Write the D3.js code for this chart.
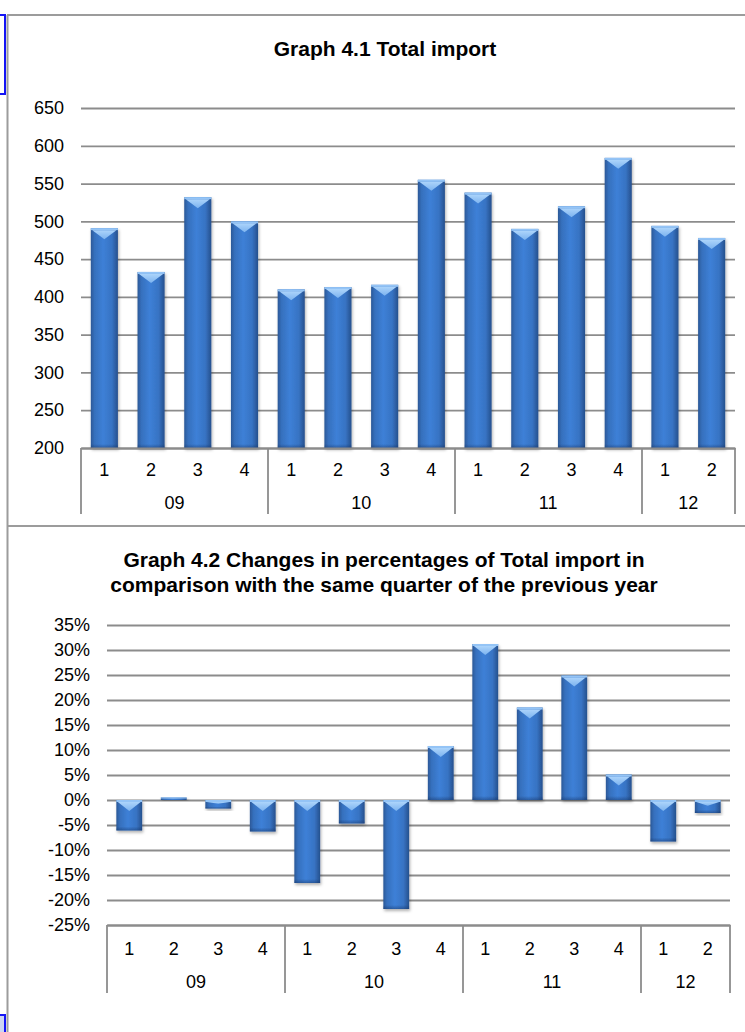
<!DOCTYPE html>
<html>
<head>
<meta charset="utf-8">
<script src="https://cdn.jsdelivr.net/npm/d3@7"></script>
<style>
  html, body { margin: 0; padding: 0; background: #fff; }
  svg { display: block; font-family: "Liberation Sans", Arial, sans-serif; }
</style>
</head>
<body>
<svg id="page" width="745" height="1032"></svg>
<script>
// Quarterly categories, grouped by year
const years = ["09", "10", "11", "12"];
const quartersPerYear = [4, 4, 4, 2];
const quarterLabels = ["1", "2", "3", "4", "1", "2", "3", "4", "1", "2", "3", "4", "1", "2"];

// Total import per quarter
const totalImport = [491, 433, 532, 500, 410, 413, 416, 555, 538, 490, 520, 584, 494, 478];
const importTicks = [200, 250, 300, 350, 400, 450, 500, 550, 600, 650];

// Change against the same quarter of the previous year, in percent
const changePct = [-6.1, 0.5, -1.7, -6.3, -16.6, -4.7, -21.8, 10.8, 31.2, 18.5, 24.9, 5.1, -8.3, -2.6];
const changeTicks = [-25, -20, -15, -10, -5, 0, 5, 10, 15, 20, 25, 30, 35];

const svg = d3.select("#page");
const FONT = 18;
const GRID = "#8c8c8c";
const FRAME = "#9c9c9c";

// ---- defs: bar shading and shadow ----
const defs = svg.append("defs");
const body = defs.append("linearGradient").attr("id", "barBody")
  .attr("x1", "0").attr("x2", "1").attr("y1", "0").attr("y2", "0");
[["0%", "#2b5897"], ["14%", "#3670bd"], ["45%", "#3d80d7"], ["78%", "#3773c3"], ["100%", "#26508d"]]
  .forEach(([o, c]) => body.append("stop").attr("offset", o).attr("stop-color", c));
const cap = defs.append("linearGradient").attr("id", "barCap")
  .attr("x1", "0").attr("x2", "0").attr("y1", "0").attr("y2", "1");
[["0%", "#acd4fb"], ["100%", "#7cb3ef"]]
  .forEach(([o, c]) => cap.append("stop").attr("offset", o).attr("stop-color", c));
const foot = defs.append("linearGradient").attr("id", "barFoot")
  .attr("x1", "0").attr("x2", "0").attr("y1", "0").attr("y2", "1");
[["0%", "rgba(20,50,100,0)"], ["100%", "rgba(20,50,100,0.45)"]]
  .forEach(([o, c]) => foot.append("stop").attr("offset", o).attr("stop-color", c));
const shadow = defs.append("filter").attr("id", "barShadow")
  .attr("x", "-30%").attr("y", "-10%").attr("width", "160%").attr("height", "130%");
shadow.append("feDropShadow").attr("dx", 1).attr("dy", 2).attr("stdDeviation", 1.6)
  .attr("flood-color", "#000").attr("flood-opacity", 0.3);

// ---- page frame ----
const frame = svg.append("g").attr("fill", "none").attr("stroke", FRAME).attr("stroke-width", 2);
frame.append("line").attr("x1", 7).attr("x2", 745).attr("y1", 15).attr("y2", 15);
frame.append("line").attr("x1", 7.5).attr("x2", 7.5).attr("y1", 15).attr("y2", 1032);
frame.append("line").attr("x1", 7).attr("x2", 745).attr("y1", 526).attr("y2", 526);
svg.append("rect").attr("x", -3).attr("y", 15).attr("width", 8).attr("height", 79)
  .attr("fill", "#fff").attr("stroke", "#1515f5").attr("stroke-width", 2);
svg.append("rect").attr("x", -3).attr("y", 1015).attr("width", 8).attr("height", 30)
  .attr("fill", "#cdd5f2").attr("stroke", "#1515f5").attr("stroke-width", 2);

// ---- shared chart drawing ----
function drawChart(cfg) {
  const g = svg.append("g");
  const x = d3.scaleBand()
    .domain(d3.range(quarterLabels.length))
    .range([cfg.left, cfg.right])
    .paddingInner(cfg.pad).paddingOuter(cfg.pad / 2);
  const y = d3.scaleLinear().domain(cfg.domain).range([cfg.bottom, cfg.top]);

  // title
  cfg.title.forEach((line, i) => {
    g.append("text").attr("x", cfg.titleX).attr("y", cfg.titleY + i * 25)
      .attr("text-anchor", "middle").attr("font-size", 21).attr("font-weight", "bold")
      .attr("fill", "#000").text(line);
  });

  // value axis with gridlines
  const ya = g.append("g").attr("transform", `translate(${cfg.left},0)`)
    .call(d3.axisLeft(y).tickValues(cfg.ticks).tickFormat(cfg.fmt)
      .tickSize(-(cfg.right - cfg.left)).tickPadding(cfg.labelGap));
  ya.select(".domain").remove();
  ya.selectAll(".tick line").attr("stroke", GRID).attr("stroke-width", 1.8);
  ya.selectAll(".tick text").attr("font-size", FONT).attr("fill", "#000")
    .attr("font-family", "Liberation Sans, Arial, sans-serif");

  // bars
  const bars = g.append("g");
  const y0 = y(cfg.base);
  cfg.values.forEach((v, i) => {
    const bx = x(i), bw = x.bandwidth();
    const top = Math.min(y(v), y0), h = Math.abs(y(v) - y0);
    const bar = bars.append("g").attr("filter", "url(#barShadow)");
    bar.append("rect").attr("x", bx).attr("y", top).attr("width", bw).attr("height", h)
      .attr("fill", "url(#barBody)");
    const fh = Math.min(4, h * 0.25);
    bar.append("rect").attr("x", bx).attr("y", top + h - fh).attr("width", bw).attr("height", fh)
      .attr("fill", "url(#barFoot)");
    const th = Math.min(11, h * 0.45);
    const sh = Math.min(2, h * 0.4);
    bar.append("rect").attr("x", bx).attr("y", top).attr("width", bw).attr("height", sh)
      .attr("fill", "#94c4f6");
    bar.append("path")
      .attr("d", `M${bx + 1.5},${top + sh}L${bx + bw - 1.5},${top + sh}L${bx + bw / 2},${top + Math.max(th, sh)}Z`)
      .attr("fill", "url(#barCap)");
  });

  // category axis: quarter labels
  const xa = g.append("g").attr("transform", `translate(0,${cfg.bottom})`)
    .call(d3.axisBottom(x).tickFormat(i => quarterLabels[i]).tickSize(0).tickPadding(cfg.qPad));
  xa.select(".domain").attr("stroke", GRID).attr("stroke-width", 1.8);
  xa.selectAll(".tick text").attr("font-size", FONT).attr("fill", "#000")
    .attr("font-family", "Liberation Sans, Arial, sans-serif");

  // year groups: dividers and labels
  const step = x.step();
  let start = 0;
  const edges = [0];
  years.forEach((yr, k) => {
    const end = start + quartersPerYear[k];
    const xs = cfg.left + start * step, xe = cfg.left + end * step;
    g.append("text").attr("x", (xs + xe) / 2).attr("y", cfg.yearY)
      .attr("text-anchor", "middle").attr("font-size", FONT).attr("fill", "#000").text(yr);
    edges.push(end);
    start = end;
  });
  edges.forEach(e => {
    const ex = Math.round(cfg.left + e * step);
    g.append("line").attr("x1", ex).attr("x2", ex)
      .attr("y1", cfg.bottom).attr("y2", cfg.divEnd)
      .attr("stroke", GRID).attr("stroke-width", 1.8);
  });
}

drawChart({
  title: ["Graph 4.1 Total import"], titleX: 385, titleY: 56,
  left: 81, right: 735, top: 108, bottom: 448,
  domain: [200, 650], ticks: importTicks, fmt: d => d, base: 200,
  values: totalImport, pad: 0.42, labelGap: 17,
  qPad: 15, yearY: 509, divEnd: 514
});

drawChart({
  title: ["Graph 4.2 Changes in percentages of Total import in",
          "comparison with the same quarter of the previous year"],
  titleX: 384, titleY: 567,
  left: 107, right: 730, top: 625, bottom: 925,
  domain: [-25, 35], ticks: changeTicks, fmt: d => d + "%", base: 0,
  values: changePct, pad: 0.42, labelGap: 17,
  qPad: 17, yearY: 988, divEnd: 993
});
</script>
</body>
</html>
